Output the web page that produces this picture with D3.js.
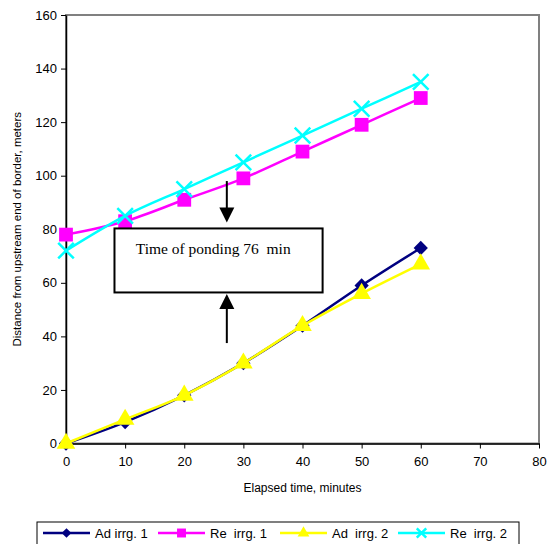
<!DOCTYPE html>
<html>
<head>
<meta charset="utf-8">
<script src="https://cdn.jsdelivr.net/npm/d3@7"></script>
<style>
  body { margin: 0; background: #fff; }
  text { font-family: "Liberation Sans", Arial, sans-serif; white-space: pre; }
</style>
</head>
<body>
<div id="wrapper"></div>
<script>
// Data
const times = [0, 10, 20, 30, 40, 50, 60]
const adIrrg1 = [0, 8, 18, 30, 44, 59, 73]
const reIrrg1 = [78, 83, 91, 99, 109, 119, 129]
const adIrrg2 = [0, 9, 18, 30, 44, 56, 67]
const reIrrg2 = [72, 85, 95, 105, 115, 125, 135]
const seriesNames = ["Ad irrg. 1", "Re  irrg. 1", "Ad  irrg. 2", "Re  irrg. 2"]
const xTicks = [0, 10, 20, 30, 40, 50, 60, 70, 80]
const yTicks = [0, 20, 40, 60, 80, 100, 120, 140, 160]
const noteText = "Time of ponding 76  min"

function drawChart() {
  const dimensions = {
    width: 547,
    height: 544,
    margin: { top: 15, right: 8, bottom: 100.5, left: 66 },
  }
  dimensions.boundedWidth = dimensions.width - dimensions.margin.left - dimensions.margin.right
  dimensions.boundedHeight = dimensions.height - dimensions.margin.top - dimensions.margin.bottom

  const svg = d3.select("#wrapper")
    .append("svg")
    .attr("width", dimensions.width)
    .attr("height", dimensions.height)

  const bounds = svg.append("g")
    .attr("transform", `translate(${dimensions.margin.left},${dimensions.margin.top})`)

  const xScale = d3.scaleLinear().domain([0, 80]).range([0, dimensions.boundedWidth])
  const yScale = d3.scaleLinear().domain([0, 160]).range([dimensions.boundedHeight, 0])

  // plot area frame (top / right in grey)
  bounds.append("rect")
    .attr("width", dimensions.boundedWidth)
    .attr("height", dimensions.boundedHeight)
    .attr("fill", "none")
    .attr("stroke", "#808080")
    .attr("stroke-width", 2)

  // axes
  const xAxis = bounds.append("g")
    .attr("transform", `translate(0,${dimensions.boundedHeight})`)
    .call(d3.axisBottom(xScale).tickValues(xTicks).tickSize(5).tickPadding(8).tickSizeOuter(0))
  const yAxis = bounds.append("g")
    .call(d3.axisLeft(yScale).tickValues(yTicks).tickSize(5).tickPadding(4).tickSizeOuter(0))

  ;[xAxis, yAxis].forEach(ax => {
    ax.select(".domain").attr("stroke", "#000").attr("stroke-width", 1.5)
    ax.selectAll(".tick line").attr("stroke", "#000").attr("stroke-width", 1)
    ax.selectAll(".tick text")
      .attr("fill", "#000")
      .style("font-size", "13px")
      .style("font-family", "'Liberation Sans', Arial, sans-serif")
  })

  svg.append("text")
    .attr("x", dimensions.margin.left + dimensions.boundedWidth / 2)
    .attr("y", 492)
    .attr("text-anchor", "middle")
    .style("font-size", "12px")
    .text("Elapsed time, minutes")

  svg.append("text")
    .attr("transform", `translate(21,${dimensions.margin.top + dimensions.boundedHeight / 2}) rotate(-90)`)
    .attr("text-anchor", "middle")
    .style("font-size", "11.5px")
    .text("Distance from upstream end of border, meters")

  // series
  const series = [
    { name: seriesNames[0], values: adIrrg1, color: "#000080", marker: "diamond" },
    { name: seriesNames[1], values: reIrrg1, color: "#ff00ff", marker: "square" },
    { name: seriesNames[2], values: adIrrg2, color: "#ffff00", marker: "triangle" },
    { name: seriesNames[3], values: reIrrg2, color: "#00ffff", marker: "cross" },
  ]

  const symbolType = {
    diamond: d3.symbolDiamond2,
    square: d3.symbolSquare,
    triangle: d3.symbolTriangle,
    cross: d3.symbolTimes,
  }
  const symbolSize = { diamond: 130, square: 190, triangle: 150, cross: 160 }

  const lineGenerator = d3.line()
    .x(d => xScale(d[0]))
    .y(d => yScale(d[1]))
    .curve(d3.curveCardinal.tension(0))

  function drawMarker(g, s, x, y, size) {
    const p = g.append("path")
      .attr("d", d3.symbol().type(symbolType[s.marker]).size(size)())
      .attr("transform", `translate(${x},${y})`)
    if (s.marker === "cross") {
      p.attr("fill", "none").attr("stroke", s.color).attr("stroke-width", 2.5)
    } else {
      p.attr("fill", s.color)
    }
  }

  series.forEach(s => {
    const pts = times.map((t, i) => [t, s.values[i]])
    bounds.append("path")
      .attr("d", lineGenerator(pts))
      .attr("fill", "none")
      .attr("stroke", s.color)
      .attr("stroke-width", 2.5)
    pts.forEach(p => drawMarker(bounds, s, xScale(p[0]), yScale(p[1]), symbolSize[s.marker]))
  })

  // annotation box
  bounds.append("rect")
    .attr("x", xScale(8.2))
    .attr("y", yScale(80.3))
    .attr("width", xScale(43.4) - xScale(8.2))
    .attr("height", yScale(56.4) - yScale(80.3))
    .attr("fill", "#fff")
    .attr("stroke", "#000")
    .attr("stroke-width", 2)

  bounds.append("text")
    .attr("x", xScale(11.8))
    .attr("y", yScale(80.3) + 26)
    .style("font-family", "'Liberation Serif', 'Times New Roman', serif")
    .style("font-size", "15.5px")
    .text(noteText)

  // arrows
  const arrowX = xScale(27.2)
  function arrow(fromV, toV) {
    const y0 = yScale(fromV), y1 = yScale(toV)
    const dir = y1 > y0 ? 1 : -1
    bounds.append("line")
      .attr("x1", arrowX).attr("x2", arrowX)
      .attr("y1", y0).attr("y2", y1 - dir * 14)
      .attr("stroke", "#000").attr("stroke-width", 2)
    bounds.append("path")
      .attr("d", `M${arrowX - 7.5},${y1 - dir * 15} L${arrowX + 7.5},${y1 - dir * 15} L${arrowX},${y1} Z`)
      .attr("fill", "#000")
  }
  arrow(98, 82.5)
  arrow(37.5, 55.8)

  // legend
  const legend = svg.append("g")
  legend.append("rect")
    .attr("x", 37).attr("y", 522)
    .attr("width", 482).attr("height", 26)
    .attr("fill", "#fff")
    .attr("stroke", "#000")
    .attr("stroke-width", 1)

  const legendX = [43, 158, 280, 398]
  series.forEach((s, i) => {
    const x0 = legendX[i]
    const cy = 533
    legend.append("line")
      .attr("x1", x0).attr("x2", x0 + 47)
      .attr("y1", cy).attr("y2", cy)
      .attr("stroke", s.color).attr("stroke-width", 2.5)
    drawMarker(legend, s, x0 + 23.5, cy, s.marker === "square" ? 80 : 60)
    legend.append("text")
      .attr("x", x0 + 52)
      .attr("y", cy + 4.5)
      .style("font-size", "13px")
      .text(s.name)
  })
}

drawChart()
</script>
</body>
</html>
